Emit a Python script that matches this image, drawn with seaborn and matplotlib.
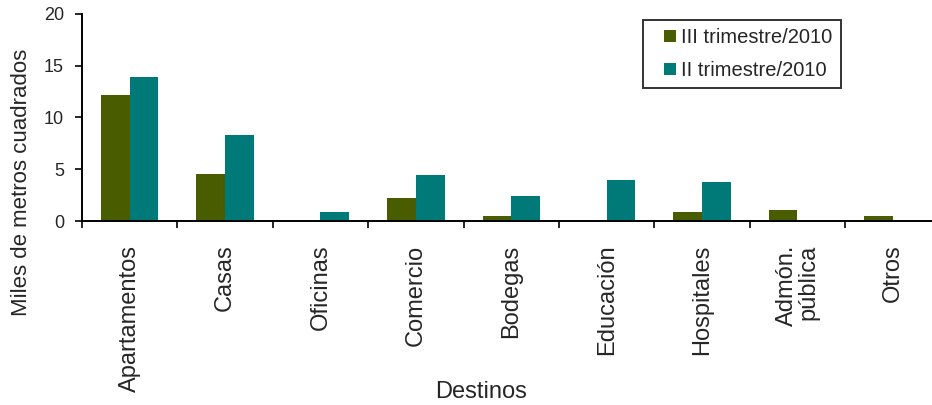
import matplotlib
matplotlib.use("Agg")
import matplotlib.pyplot as plt
import matplotlib.patches as mpatches
from matplotlib.legend_handler import HandlerPatch
import numpy as np
import pandas as pd
import seaborn as sns

# data
destinos = ["Apartamentos", "Casas", "Oficinas", "Comercio", "Bodegas",
            "Educación", "Hospitales", "Admón.\npública", "Otros"]
periodos = ["III trimestre/2010", "II trimestre/2010"]
iii_trim = [12.2, 4.5, 0.0, 2.2, 0.5, 0.0, 0.9, 1.1, 0.5]
ii_trim = [13.9, 8.3, 0.9, 4.4, 2.4, 4.0, 3.8, 0.0, 0.0]
colores = ["#4A5C00", "#007A78"]

df = pd.DataFrame({
    "Destino": destinos * 2,
    "Periodo": [periodos[0]] * len(destinos) + [periodos[1]] * len(destinos),
    "Valor": iii_trim + ii_trim,
})


def square_at_right(legend, orig_handle, xdescent, ydescent, width, height, fontsize):
    # small square swatch pushed to the right end of the handle box
    return mpatches.Rectangle((-xdescent + width - height, -ydescent), height, height)


sns.set_style("ticks")
plt.rcParams["font.family"] = ["Liberation Sans", "DejaVu Sans"]

fig = plt.figure(figsize=(9.32, 4.05), dpi=100)
ax = fig.add_axes([82 / 932, 184 / 405, 850 / 932, 207 / 405])

sns.barplot(data=df, x="Destino", y="Valor", hue="Periodo", hue_order=periodos,
            order=destinos, palette=colores, width=0.6, saturation=1,
            edgecolor="none", legend=False, ax=ax)

ax.set_ylim(0, 20)
ax.set_yticks([0, 5, 10, 15, 20])
ax.set_xlim(-0.5, 8.41)
ax.tick_params(axis="y", labelsize=13, length=5, width=1.2, color="black", pad=8)

# category labels at centers, tick marks between categories
ax.set_xticks(range(len(destinos)))
ax.set_xticklabels(destinos, rotation=90, fontsize=17, va="top", ha="center")
ax.set_xticks(np.arange(len(destinos)) - 0.5, minor=True)
ax.tick_params(axis="x", which="major", length=0, pad=17)
ax.tick_params(axis="x", which="minor", length=5, width=1.2, color="black")
for lbl in ax.get_xticklabels():
    lbl.set_multialignment("right")
    lbl.set_linespacing(1.0)

for side in ["top", "right"]:
    ax.spines[side].set_visible(False)
for side in ["left", "bottom"]:
    ax.spines[side].set_color("black")
    ax.spines[side].set_linewidth(1.4)

ax.set_xlabel("Destinos", fontsize=17)
ax.xaxis.set_label_coords(0.47, -0.773)
ax.set_ylabel("Miles de metros cuadrados", fontsize=16)
ax.yaxis.label.set_va("center")
ax.yaxis.set_label_coords(-0.0706, 0.188)

handles = [mpatches.Patch(facecolor=c, edgecolor="none") for c in colores]
leg = ax.legend(handles, periodos, loc="upper left", bbox_to_anchor=(0.66, 0.971),
                borderaxespad=0, fontsize=14.5, frameon=True, fancybox=False,
                handlelength=1.25, handleheight=0.55, handletextpad=0.25,
                labelspacing=0.7, borderpad=0.4,
                handler_map={mpatches.Patch: HandlerPatch(patch_func=square_at_right)})
leg.get_frame().set_edgecolor("black")
leg.get_frame().set_linewidth(1.4)

fig.savefig("out.png", dpi=100)
